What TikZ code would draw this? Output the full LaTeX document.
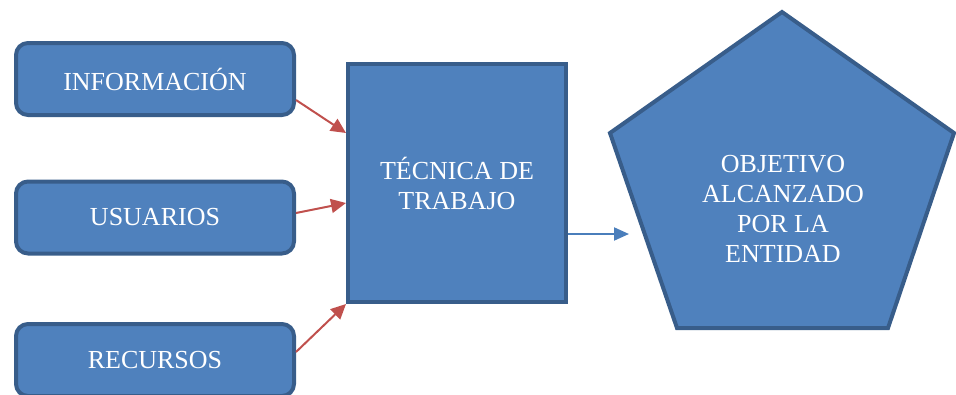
\documentclass[tikz,border=0pt]{standalone}
\usepackage{fontspec}
\setmainfont{Liberation Serif}
\usetikzlibrary{arrows.meta}
\definecolor{boxfill}{HTML}{4F81BD}
\definecolor{boxline}{HTML}{385D8A}
\definecolor{redarrow}{HTML}{C0504D}
\definecolor{bluearrow}{HTML}{4A7EBB}

\begin{document}
\begin{tikzpicture}[x=1pt,y=-1pt]
  \tikzstyle{block}=[fill=boxfill,draw=boxline,line width=4pt,text=white,align=center,
    font=\fontsize{26}{30}\selectfont,inner sep=0pt]
  \tikzstyle{input}=[block,rounded corners=12pt,minimum width=278pt,minimum height=72pt]
  \tikzstyle{feed}=[redarrow,line width=2pt,-{Triangle[length=15pt,width=14pt]}]
  \useasboundingbox (0,0) rectangle (956,394);

  \node[input] (info) at (155,79) {INFORMACIÓN};
  \node[input] (users) at (155,217.5) {USUARIOS};
  \node[input] (res) at (155,360) {RECURSOS};
  \node[block,minimum width=218pt,minimum height=238pt] (tec) at (457,183) {TÉCNICA DE\\TRABAJO};

  \draw[block] (782,12) -- (954,133) -- (888,328) -- (677,328) -- (610,133) -- cycle;
  \node[text=white,align=center,font=\fontsize{26}{30}\selectfont] (goal) at (783,209)
    {OBJETIVO\\ALCANZADO\\POR LA\\ENTIDAD};
  \coordinate (goalin) at (629,234);

  \draw[feed] ([yshift=-21pt]info.east) -- ([yshift=50pt]tec.west);
  \draw[feed] ([yshift=4.5pt]users.east) -- ([yshift=-20pt]tec.west);
  \draw[feed] ([yshift=8pt]res.east) -- (tec.south west);
  \draw[bluearrow,line width=2pt,-{Triangle[length=15pt,width=13pt]}] ([yshift=-51pt]tec.east) -- (goalin);
\end{tikzpicture}
\end{document}
